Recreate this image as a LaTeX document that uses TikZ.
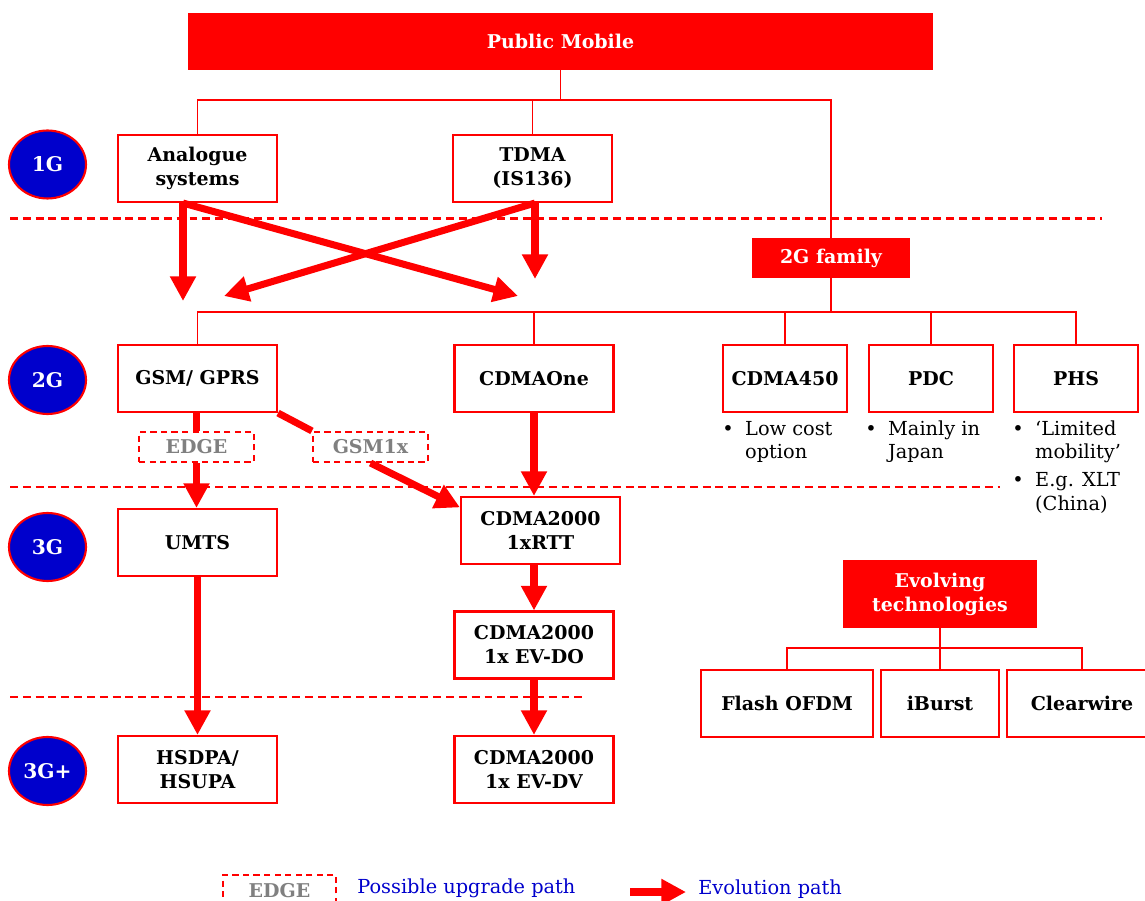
\documentclass[tikz,border=0pt]{standalone}
\usepackage{fontspec}
\setmainfont{DejaVu Serif}
\usepackage{tikz}
\usetikzlibrary{arrows.meta, positioning, calc, shapes.geometric}
\usepackage{xcolor}
\definecolor{genblue}{RGB}{0,0,204}
\definecolor{tagray}{RGB}{128,128,128}
\newcommand{\boxfont}{\fontsize{10.8}{13.6}\selectfont\bfseries}
\newcommand{\genfont}{\fontsize{11.5}{13.6}\selectfont\bfseries}
\newcommand{\notefont}{\fontsize{11}{13.6}\selectfont}
\newcommand{\bul}{\makebox[13pt][l]{\textbullet}}

\tikzset{
  techbox/.style={draw=red, line width=1.2pt, fill=white, align=center, font=\boxfont,
    minimum width=3.18cm, minimum height=1.34cm, inner sep=1pt},
  headbox/.style={fill=red, text=white, align=center, font=\boxfont, inner sep=1pt},
  genball/.style={ellipse, draw=red, line width=1.2pt, fill=genblue, text=white,
    font=\genfont, minimum width=1.54cm, minimum height=1.36cm, inner sep=0pt},
  upgbox/.style={draw=red, dash pattern=on 3.5pt off 2.5pt, line width=1.2pt, fill=white,
    text=tagray, font=\boxfont, minimum width=2.3cm, minimum height=0.6cm, inner sep=0pt},
  tree/.style={red, line width=1.1pt},
  evo/.style={red, line width=4pt, -{Triangle[width=14pt,length=14pt]}},
  evoline/.style={red, line width=4pt},
  sepline/.style={red, line width=1.4pt, dash pattern=on 4.5pt off 2.8pt},
  note/.style={anchor=north west, inner sep=0pt, font=\notefont},
}

\begin{document}
\begin{tikzpicture}[x=0.02cm, y=-0.02cm]
  \useasboundingbox (0,0) rectangle (1145,901);

  % generation separators
  \draw[sepline] (10,218.5) -- (1102,218.5);
  \draw[sepline] (10,487) -- (1000,487);
  \draw[sepline] (10,697) -- (585,697);

  % generations
  \node[genball] (g1) at (47.5,164.5) {1G};
  \node[genball] (g2) at (47.5,380) {2G};
  \node[genball] (g3) at (47.5,547) {3G};
  \node[genball] (g4) at (47.5,771) {3G+};

  % technologies
  \node[headbox, minimum width=14.9cm, minimum height=1.14cm] (pm) at (560.5,41.5) {Public Mobile};
  \node[techbox] (ana) at (197.5,168.5) {Analogue\\systems};
  \node[techbox] (tdma) at (532.5,168.5) {TDMA\\(IS136)};
  \node[headbox, minimum width=3.16cm, minimum height=0.8cm] (fam) at (831,258) {2G family};
  \node[techbox] (gsm) at (197.5,378.5) {GSM/ GPRS};
  \node[techbox] (cone) at (534,378.5) {CDMAOne};
  \node[techbox, minimum width=2.48cm] (c450) at (785,378.5) {CDMA450};
  \node[techbox, minimum width=2.48cm] (pdc) at (931,378.5) {PDC};
  \node[techbox, minimum width=2.48cm] (phs) at (1076,378.5) {PHS};
  \node[upgbox] (edge) at (196.5,447) {EDGE};
  \node[upgbox] (g1x) at (370.5,447) {GSM1x};
  \node[techbox] (umts) at (197.5,542.5) {UMTS};
  \node[techbox] (rtt) at (540.5,530.5) {CDMA2000\\1xRTT};
  \node[techbox] (evdo) at (534,645) {CDMA2000\\1x EV-DO};
  \node[techbox] (hsd) at (197.5,769.5) {HSDPA/\\HSUPA};
  \node[techbox] (evdv) at (534,769.5) {CDMA2000\\1x EV-DV};
  \node[headbox, minimum width=3.88cm, minimum height=1.36cm] (evol) at (940,594) {Evolving\\technologies};
  \node[techbox, minimum width=3.44cm] (flash) at (787,703.5) {Flash OFDM};
  \node[techbox, minimum width=2.36cm] (ibur) at (940,703.5) {iBurst};
  \node[techbox, minimum width=3.0cm] (clw) at (1082,703.5) {Clearwire};

  % notes under the 2G family
  \node[note] (n450) at (722,418) {\begin{tabular}{@{}l@{}l@{}}\bul & Low cost\\ & option\end{tabular}};
  \node[note] (npdc) at (865,418) {\begin{tabular}{@{}l@{}l@{}}\bul & Mainly in\\ & Japan\end{tabular}};
  \node[note] (nphs) at (1012,418) {\begin{tabular}{@{}l@{}l@{}}\bul & ‘Limited\\ & mobility’\\[2pt] \bul & E.g. XLT\\ & (China)\end{tabular}};

  % family trees
  \coordinate (j1) at (560.5,100);
  \draw[tree] (pm.south) -- (j1);
  \draw[tree] (ana.north) |- (j1) -| (fam.north);
  \draw[tree] (tdma.north) -- (tdma.north |- j1);
  \coordinate (j2) at (831,312);
  \draw[tree] (fam.south) -- (j2);
  \draw[tree] (gsm.north) |- (j2) -| (phs.north);
  \foreach \n in {cone,c450,pdc}
    \draw[tree] (\n.north) -- (\n.north |- j2);
  \coordinate (j3) at (940,648);
  \draw[tree] (evol.south) -- (ibur.north);
  \draw[tree] (flash.north) |- (j3) -| (clw.north);

  % evolution paths
  \coordinate (a1) at (183,301);
  \coordinate (a2) at (518,296);
  \coordinate (t1) at (224,296);
  \coordinate (t2) at (535,279);
  \draw[evo] (ana.south -| a1) -- (a1);
  \draw[evo] (ana.south -| a1) -- (a2);
  \draw[evo] (tdma.south -| t2) -- (t1);
  \draw[evo] (tdma.south -| t2) -- (t2);
  \draw[evoline] (gsm.south -| edge.north) -- (edge.north);
  \draw[evo] (edge.south) -- (edge.south |- umts.north);
  \draw[evoline] (gsm.south east) -- (g1x.north west);
  \draw[evo] (g1x.south) -- (rtt.164);
  \draw[evo] (cone.south) -- (cone.south |- rtt.north);
  \draw[evo] (evdo.north |- rtt.south) -- (evdo.north);
  \draw[evo] (evdo.south) -- (evdv.north);
  \draw[evo] (umts.south) -- (hsd.north);

  % legend
  \node[upgbox, minimum width=2.26cm, minimum height=0.64cm] (lgbox) at (279.5,891) {EDGE};
  \node[anchor=base west, inner sep=0pt, text=genblue, font=\notefont] (lgup) at (357,893) {Possible upgrade path};
  \node[anchor=base west, inner sep=0pt, text=genblue, font=\notefont] (lgev) at (698,894) {Evolution path};
  \coordinate (lga) at (630,892);
  \coordinate (lgb) at (686,892);
  \draw[evo, line width=4.5pt] (lga) -- (lgb);
\end{tikzpicture}
\end{document}
